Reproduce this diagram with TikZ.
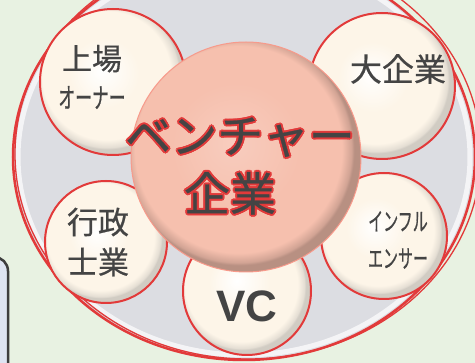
\documentclass[tikz,border=0pt]{standalone}
\usepackage{fontspec}
\setmainfont{Liberation Sans}
\newfontfamily\jpfont[FakeBold=0.6]{Noto Sans CJK JP}
\newfontfamily\jpnarrow[FakeStretch=0.6,FakeBold=0.6]{Noto Sans CJK JP}
\definecolor{bggreen}{HTML}{E8F2E2}
\definecolor{ringgray}{HTML}{DCDDE2}
\definecolor{ringred}{HTML}{E23A3A}
\definecolor{ballcream}{HTML}{FDF5E8}
\definecolor{ballsalmon}{HTML}{F6C0AE}
\definecolor{inkgray}{HTML}{444444}
\definecolor{boxblue}{HTML}{DEE4F2}
\definecolor{boxedge}{HTML}{3E3E3E}
\pgfdeclareradialshading{creamball}{\pgfpoint{-4bp}{4bp}}{color(0bp)=(white); color(12bp)=(ballcream); color(22bp)=(ballcream); color(24.5bp)=(ballcream!80!gray); color(25bp)=(ballcream!65!gray); color(50bp)=(ballcream!65!gray)}
\pgfdeclareradialshading{salmonball}{\pgfpoint{-3bp}{3bp}}{color(0bp)=(ballsalmon!80!white); color(14bp)=(ballsalmon); color(22.5bp)=(ballsalmon); color(24.5bp)=(ballsalmon!85!black); color(25bp)=(ballsalmon!75!black); color(50bp)=(ballsalmon!75!black)}
\tikzset{
	smallball/.style={
		circle,
		shading=creamball,
		draw=ringred,
		line width=2pt},
	bigball/.style={
		circle,
		minimum size=230pt,
		shading=salmonball,
		draw=ballsalmon!80!red,
		line width=1pt},
	balltext/.style={
		text=inkgray,
		align=center,
		inner sep=0pt},
	venturetext/.style={
		balltext,
		font=\jpfont\fontsize{46pt}{58pt}\selectfont}
}
\begin{document}
\begin{tikzpicture}[x=1pt, y=-1pt]
	\useasboundingbox (0,0) rectangle (475,363);
	\fill[bggreen] (0,0) rectangle (475,363);
	% box at the left edge
	\draw[boxedge, fill=boxblue, line width=2.5pt, rounded corners=14pt] (-40,257) rectangle (8,420);
	% outer ring
	\fill[ringgray] (244,157) ellipse [x radius=231pt, y radius=203pt];
	\draw[white, opacity=.7, line width=5pt] (244,157) ellipse [x radius=226pt, y radius=198pt];
	\draw[ringred, line width=1.3pt] (248,154) ellipse [x radius=233pt, y radius=205pt];
	\draw[ringred, line width=2.5pt] (244,157) ellipse [x radius=231pt, y radius=203pt];
	% balls
	\node[smallball, minimum size=146pt] (listed) at (113,82) {};
	\node[smallball, minimum size=146pt] (bigcorp) at (382,86) {};
	\node[smallball, minimum size=122pt] (shigyo) at (106,242) {};
	\node[smallball, minimum size=126pt] (influ) at (384,236) {};
	\node[smallball, minimum size=128pt] (vc) at (247,291) {};
	\node[bigball] (venture) at (246,157) {};
	% labels
	\node[balltext, font=\jpfont\fontsize{30pt}{38pt}\selectfont] (listedtxt) at ([shift={(-21,-5)}]listed) {上場\\{\jpnarrow\fontsize{28pt}{38pt}\selectfont オーナー}};
	\node[balltext, font=\jpfont\fontsize{32pt}{38pt}\selectfont] (bigcorptxt) at ([shift={(16,-17)}]bigcorp) {大企業};
	\node[balltext, font=\jpfont\fontsize{31pt}{40pt}\selectfont] (shigyotxt) at ([shift={(-8,0)}]shigyo) {行政\\士業};
	\node[balltext, font=\jpnarrow\fontsize{25pt}{37pt}\selectfont] (influtxt) at ([shift={(14,4)}]influ) {インフル\\エンサー};
	\node[balltext, font=\bfseries\fontsize{44pt}{50pt}\selectfont] (vctxt) at ([shift={(0,15)}]vc) {VC};
	\coordinate (venturepos) at ([shift={(-6,9)}]venture);
	\foreach \a in {0,45,...,315}
		\node[venturetext, text=ringred] at ([shift={(\a:2)}]venturepos) {ベンチャー\\\hspace*{-20pt}企業};
	\node[venturetext] (venturetxt) at (venturepos) {ベンチャー\\\hspace*{-20pt}企業};
\end{tikzpicture}
\end{document}
